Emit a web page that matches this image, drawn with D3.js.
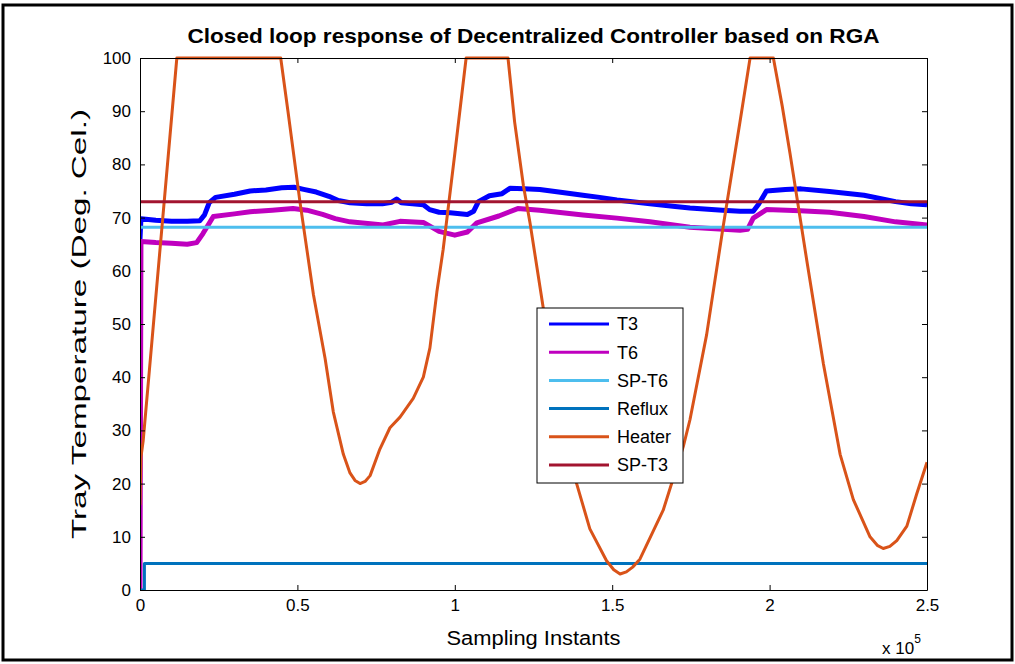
<!DOCTYPE html>
<html>
<head>
<meta charset="utf-8">
<script src="https://cdn.jsdelivr.net/npm/d3@7"></script>
<style>
  body { margin: 0; background: #fff; }
  svg { display: block; font-family: "Liberation Sans", Arial, sans-serif; }
</style>
</head>
<body>
<div id="content"></div>
<script>
// sampling instants are in units of 1e5
const xTicks = [0, 0.5, 1, 1.5, 2, 2.5];
const yTicks = [0, 10, 20, 30, 40, 50, 60, 70, 80, 90, 100];

const t3X = [0, 0.003, 0.05, 0.1, 0.15, 0.19, 0.205, 0.22, 0.24, 0.3, 0.35, 0.4, 0.45, 0.49, 0.52, 0.56, 0.6, 0.63, 0.667, 0.72, 0.77, 0.8, 0.815, 0.83, 0.9, 0.92, 0.95, 0.985, 1.04, 1.06, 1.075, 1.11, 1.15, 1.175, 1.22, 1.27, 1.33, 1.407, 1.46, 1.515, 1.62, 1.7, 1.747, 1.85, 1.906, 1.948, 1.965, 1.99, 2.05, 2.1, 2.19, 2.3, 2.4, 2.45, 2.5];
const t3Y = [66, 69.8, 69.5, 69.3, 69.3, 69.4, 70.5, 72.8, 73.8, 74.4, 75, 75.2, 75.6, 75.7, 75.3, 74.8, 74, 73.2, 72.8, 72.6, 72.6, 72.9, 73.5, 72.8, 72.4, 71.5, 71, 70.9, 70.6, 71.2, 73, 74.1, 74.5, 75.5, 75.4, 75.3, 74.8, 74.2, 73.8, 73.3, 72.6, 72.1, 71.8, 71.4, 71.2, 71.2, 72.5, 75, 75.3, 75.4, 74.9, 74.2, 73, 72.6, 72.4];

const t6X = [0, 0.003, 0.05, 0.1, 0.15, 0.18, 0.2, 0.233, 0.3, 0.35, 0.42, 0.486, 0.53, 0.58, 0.62, 0.667, 0.772, 0.826, 0.9, 0.95, 1.0, 1.04, 1.07, 1.14, 1.2, 1.27, 1.407, 1.515, 1.62, 1.747, 1.906, 1.93, 1.948, 1.99, 2.097, 2.19, 2.3, 2.4, 2.5];
const t6Y = [0, 65.5, 65.3, 65.2, 65, 65.3, 67, 70.2, 70.7, 71.1, 71.4, 71.7, 71.4, 70.6, 69.8, 69.2, 68.6, 69.3, 69.1, 67.4, 66.7, 67.3, 69, 70.3, 71.7, 71.4, 70.5, 69.9, 69.2, 68.2, 67.6, 67.8, 69.9, 71.5, 71.3, 71, 70.2, 69.2, 68.6];

const spT6 = 68.2;
const spT3 = 73.0;

const refluxX = [0, 0.014, 0.014, 2.5];
const refluxY = [0, 0, 5, 5];

const heaterX = [0, 0.003, 0.01, 0.117, 0.447, 0.47, 0.508, 0.551, 0.588, 0.614, 0.646, 0.667, 0.683, 0.699, 0.715, 0.731, 0.762, 0.794, 0.826, 0.868, 0.9, 0.921, 0.943, 0.963, 1.0, 1.036, 1.169, 1.19, 1.218, 1.239, 1.281, 1.33, 1.387, 1.429, 1.482, 1.505, 1.525, 1.545, 1.565, 1.588, 1.662, 1.694, 1.726, 1.747, 1.8, 1.853, 1.906, 1.938, 2.012, 2.04, 2.065, 2.118, 2.171, 2.224, 2.266, 2.319, 2.342, 2.361, 2.382, 2.404, 2.436, 2.467, 2.5];
const heaterY = [16, 25, 28, 100, 100, 90, 73, 55.5, 43.5, 33.5, 25.5, 22, 20.6, 20, 20.4, 21.5, 26.5, 30.5, 32.5, 36, 40, 45.5, 56, 64, 82, 100, 100, 88, 76, 69, 53, 36, 20, 11.5, 5.5, 3.8, 3, 3.4, 4.3, 5.8, 15, 21, 27, 32, 48, 68.5, 88, 100, 100, 91, 82, 62, 42.5, 25.5, 17, 10, 8.4, 7.8, 8.2, 9.3, 12, 18, 24];

const seriesNames = ["T3", "T6", "SP-T6", "Reflux", "Heater", "SP-T3"];
const seriesColors = ["#0000FF", "#BF00BF", "#4DBEEE", "#0072BD", "#D95319", "#A2142F"];
const seriesWidths = [5, 5, 3, 3, 3, 3];

const W = 1015, H = 664;
const margin = {top: 58, right: 88, bottom: 74, left: 140};

const svg = d3.select("#content").append("svg")
  .attr("width", W).attr("height", H);

// outer frame
svg.append("rect")
  .attr("x", 3).attr("y", 5).attr("width", W - 6).attr("height", H - 9)
  .attr("fill", "#fff").attr("stroke", "#000").attr("stroke-width", 3);

const x = d3.scaleLinear().domain([0, 2.5]).range([margin.left, W - margin.right]);
const y = d3.scaleLinear().domain([0, 100]).range([H - margin.bottom, margin.top]);

const zip = (xs, ys) => xs.map((v, i) => [v, ys[i]]);
const data = [
  zip(t3X, t3Y),
  zip(t6X, t6Y),
  [[0, spT6], [2.5, spT6]],
  zip(refluxX, refluxY),
  zip(heaterX, heaterY),
  [[0, spT3], [2.5, spT3]]
];

const line = d3.line().x(d => x(d[0])).y(d => y(d[1]));

svg.append("clipPath").attr("id", "clip").append("rect")
  .attr("x", x(0)).attr("y", y(100) - 2)
  .attr("width", x(2.5) - x(0)).attr("height", y(0) - y(100) + 2);

svg.append("g").attr("clip-path", "url(#clip)")
  .selectAll("path").data(data).join("path")
  .attr("d", line)
  .attr("fill", "none")
  .attr("stroke", (d, i) => seriesColors[i])
  .attr("stroke-width", (d, i) => seriesWidths[i])
  .attr("stroke-linejoin", "round");

// axes, ticks inward on all four sides
const fmtX = d => d3.format("~g")(d);
svg.append("g").attr("transform", `translate(0,${y(0)})`)
  .call(d3.axisBottom(x).tickValues(xTicks).tickFormat(fmtX).tickSizeInner(-5).tickSizeOuter(0).tickPadding(9));
svg.append("g").attr("transform", `translate(${x(0)},0)`)
  .call(d3.axisLeft(y).tickValues(yTicks).tickSizeInner(-5).tickSizeOuter(0).tickPadding(9));
svg.append("g").attr("transform", `translate(0,${y(100)})`)
  .call(d3.axisTop(x).tickValues(xTicks).tickFormat("").tickSizeInner(-5).tickSizeOuter(0));
svg.append("g").attr("transform", `translate(${x(2.5)},0)`)
  .call(d3.axisRight(y).tickValues(yTicks).tickFormat("").tickSizeInner(-5).tickSizeOuter(0));

svg.selectAll(".domain").attr("stroke", "#000");
svg.selectAll(".tick line").attr("stroke", "#000");
svg.selectAll(".tick text").attr("font-size", 17).attr("fill", "#000")
  .attr("font-family", "Liberation Sans, Arial, sans-serif");

// title and labels
svg.append("text")
  .attr("x", (x(0) + x(2.5)) / 2).attr("y", 43)
  .attr("text-anchor", "middle").attr("font-weight", "bold").attr("font-size", 21)
  .attr("textLength", 692).attr("lengthAdjust", "spacingAndGlyphs")
  .text("Closed loop response of Decentralized Controller based on RGA");

svg.append("text")
  .attr("x", (x(0) + x(2.5)) / 2).attr("y", 645)
  .attr("text-anchor", "middle").attr("font-size", 20)
  .attr("textLength", 174).attr("lengthAdjust", "spacingAndGlyphs")
  .text("Sampling Instants");

svg.append("text")
  .attr("transform", `translate(86,${(y(0) + y(100)) / 2}) rotate(-90)`)
  .attr("text-anchor", "middle").attr("font-size", 20)
  .attr("textLength", 430).attr("lengthAdjust", "spacingAndGlyphs")
  .text("Tray Temperature (Deg. Cel.)");

const expo = svg.append("text").attr("x", 882).attr("y", 654).attr("font-size", 17);
expo.append("tspan").text("x 10");
expo.append("tspan").attr("dy", -11).attr("font-size", 12).text("5");

// legend
const lg = svg.append("g").attr("transform", "translate(537,308)");
lg.append("rect").attr("width", 146).attr("height", 175)
  .attr("fill", "#fff").attr("stroke", "#000").attr("stroke-width", 1);
const rows = lg.selectAll("g.row").data(seriesNames).join("g")
  .attr("class", "row")
  .attr("transform", (d, i) => `translate(0,${16 + i * 28.2})`);
rows.append("line").attr("x1", 12).attr("x2", 72)
  .attr("stroke", (d, i) => seriesColors[i]).attr("stroke-width", 3);
rows.append("text").attr("x", 80).attr("dy", "0.35em").attr("font-size", 18)
  .text(d => d);
</script>
</body>
</html>
